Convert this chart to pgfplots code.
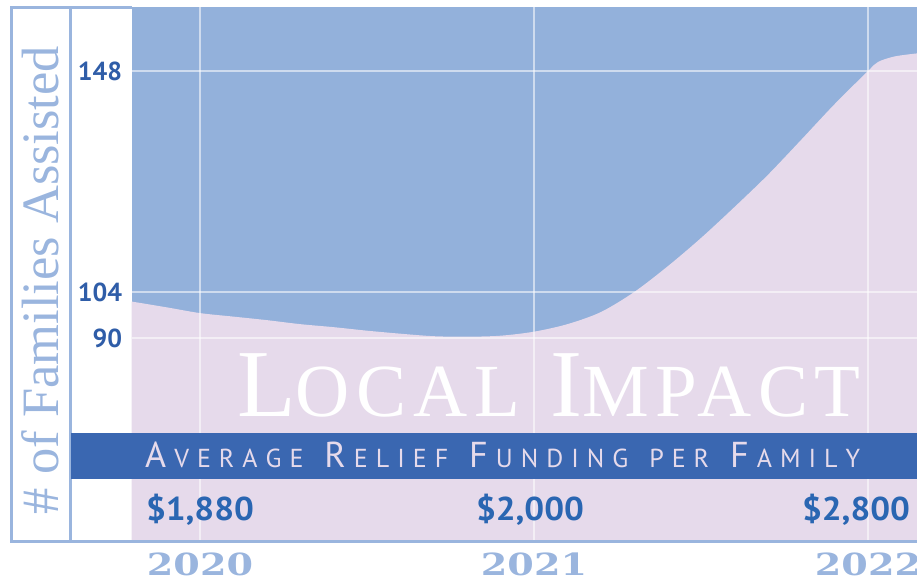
\documentclass[border=0pt]{standalone}
\usepackage{fontspec}
\setmainfont{Liberation Serif}
\newfontfamily\ptsans{PT Sans}
\newfontfamily\libserls[LetterSpace=9]{Liberation Serif}
\newfontfamily\dvserif{DejaVu Serif}
\usepackage{graphicx}
\usepackage{pgfplots}
\pgfplotsset{compat=1.18}
\definecolor{areablue}{HTML}{93B1DB}
\definecolor{areapink}{HTML}{E6DAEB}
\definecolor{bandblue}{HTML}{3A67B1}
\definecolor{framec}{HTML}{9AB5DE}
\definecolor{tickc}{HTML}{2F5DA8}
\definecolor{dollarc}{HTML}{2A66B2}
\newlength\ls \setlength\ls{8pt}
\def\spl#1{\ifx#1\relax\else#1\kern\ls\expandafter\spl\fi}
\newcommand\Bg[1]{{\fontsize{36}{36}\selectfont\spl#1\relax}}
\newcommand\Sm[1]{{\fontsize{26}{26}\selectfont\spl#1\relax}}
\newcommand\WS{\hspace{13pt}}
\newcommand\LBg[1]{{\fontsize{96}{96}\selectfont #1}}
\newcommand\LSm[1]{{\fontsize{75}{75}\selectfont #1}}
\begin{document}
\begin{tikzpicture}
\path[use as bounding box] (0pt,0pt) rectangle (917pt,582pt);
\begin{axis}[
  at={(131.7pt,40.3pt)}, anchor=south west,
  scale only axis, width=785.3pt, height=534.2pt,
  xmin=2019.7955, xmax=2022.1467, ymin=54.29, ymax=160.64,
  axis background/.style={fill=areablue},
  axis line style={draw=none},
  major tick length=0pt,
  xtick={2020,2021,2022},
  xticklabels={\scalebox{1.25}[1]{2020},\scalebox{1.25}[1]{2021},\scalebox{1.25}[1]{2022}},
  ytick={94.8,104,148}, yticklabels={90,104,148},
  grid=major,
  major grid style={white, opacity=0.55, line width=2pt},
  axis on top,
  xticklabel style={font=\dvserif\bfseries\fontsize{30.5}{30.5}\selectfont, text=framec, anchor=north, inner sep=0pt, yshift=-11pt},
  yticklabel style={font=\ptsans\bfseries\fontsize{26}{26}\selectfont, text=tickc, anchor=east, inner sep=0pt, xshift=-9.5pt},
]
\addplot[draw=none, fill=areapink, smooth, tension=0.5] coordinates {
  (2019.7955,102.1) (2019.9,100.95) (2020.0,99.8) (2020.1,99.1)
  (2020.2,98.4) (2020.3,97.6) (2020.4,97.0) (2020.5,96.3)
  (2020.6,95.7) (2020.7,95.2) (2020.8,95.1) (2020.9,95.3)
  (2021.0,96.1) (2021.1,97.6) (2021.2,100.0) (2021.3,104.0)
  (2021.4,109.1) (2021.5,114.75) (2021.6,120.9) (2021.7,127.3)
  (2021.8,134.3) (2021.9,141.4) (2022.0,148.0) (2022.03,149.8)
  (2022.08,150.9) (2022.1467,151.5)
} \closedcycle;
\end{axis}
% frame
\draw[framec, line width=2.6pt] (11.7pt,574.5pt) -- (11.7pt,40.3pt);
\draw[framec, line width=2.6pt] (70.7pt,574.5pt) -- (70.7pt,40.3pt);
\draw[framec, line width=2.6pt] (10.4pt,574.5pt) -- (131.7pt,574.5pt);
\draw[framec, line width=3pt] (10.4pt,40.3pt) -- (917pt,40.3pt);
% band
\fill[bandblue] (70.7pt,103pt) rectangle (917pt,149pt);
\node[anchor=base west, inner sep=0pt, text=areapink, font=\ptsans] at (145pt,115pt)
  {\Bg{A}\Sm{VERAGE}\WS\Bg{R}\Sm{ELIEF}\WS\Bg{F}\Sm{UNDING}\WS\Sm{PER}\WS\Bg{F}\Sm{AMILY}};
% big title
\node[anchor=base, inner sep=0pt, text=white, font=\libserls] at (549pt,166pt)
  {\LBg{L}\LSm{OCAL}\hspace{30pt}\LBg{I}\LSm{MPACT}};
% dollar labels
\node[anchor=base, inner sep=0pt, text=dollarc, font=\ptsans\bfseries\fontsize{33}{33}\selectfont] at (200pt,62pt) {\scalebox{1.06}[1]{\$1,880}};
\node[anchor=base, inner sep=0pt, text=dollarc, font=\ptsans\bfseries\fontsize{33}{33}\selectfont] at (530pt,62pt) {\scalebox{1.06}[1]{\$2,000}};
\node[anchor=base, inner sep=0pt, text=dollarc, font=\ptsans\bfseries\fontsize{33}{33}\selectfont] at (856pt,62pt) {\scalebox{1.06}[1]{\$2,800}};
% y label
\node[anchor=base, inner sep=0pt, rotate=90, text=framec, font=\fontsize{52.5}{52.5}\selectfont] at (58pt,302pt) {\# of Families Assisted};
\end{tikzpicture}
\end{document}
